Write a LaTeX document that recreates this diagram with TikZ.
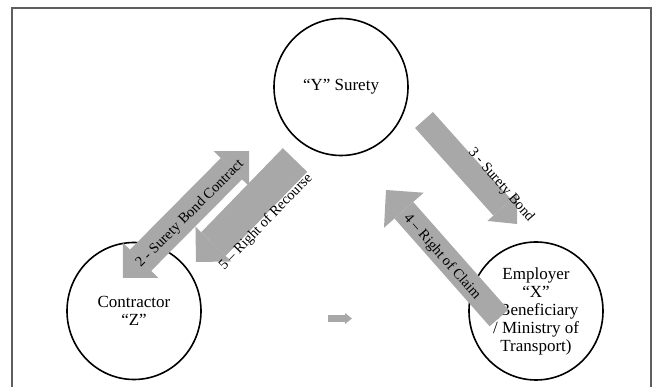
\documentclass[tikz,border=0pt]{standalone}
\usepackage{fontspec}
\setmainfont{Liberation Serif}
\usetikzlibrary{arrows.meta,shapes.geometric}
\definecolor{bandgray}{RGB}{168,168,168}
\definecolor{framegray}{RGB}{95,95,95}
\tikzset{
  party/.style={ellipse, draw, line width=1.6pt, inner sep=0pt, align=center,
    minimum width=134pt, minimum height=137pt,
    font=\fontsize{17}{18}\selectfont},
  band/.style={draw=bandgray, line width=#1},
  band label/.style={inner sep=0pt, font=\fontsize{14.5}{15}\selectfont},
}

\begin{document}
\begin{tikzpicture}[x=1pt, y=-1pt]
  \useasboundingbox (0,0) rectangle (654,387);

  % frame
  \draw[framegray, line width=1.3pt] (12,387) -- (12,8) -- (651,8) -- (651,387);

  % the three parties
  \node[party] (surety) at (341,87) {“Y” Surety};
  \node[party] (contractor) at (134,311) {Contractor\\“Z”};
  \node[party, minimum height=138pt] (employer) at (536,311)
    {Employer\\“X”\\(Beneficiary\\/ Ministry of\\Transport)};

  % end points of the bands
  \coordinate (a2) at (123,278);
  \coordinate (b2) at (249,151);
  \coordinate (a5) at (295,160);
  \coordinate (b5) at (196,262);
  \coordinate (a3) at (424,120);
  \coordinate (b3) at (517,224);
  \coordinate (a4) at (499,318);
  \coordinate (b4) at (386,190);
  \coordinate (a6) at (328,318.5);
  \coordinate (b6) at (352,318.5);

  \draw[band=30pt, {Triangle[line width=0pt, width=50pt, length=25pt]}-{Triangle[line width=0pt, width=50pt, length=25pt]}]
    (a2) -- (b2);
  \draw[band=34pt, -{Triangle[line width=0pt, width=50pt, length=25pt]}] (a5) -- (b5);
  \draw[band=24pt, -{Triangle[line width=0pt, width=40pt, length=22pt]}] (a3) -- (b3);
  \draw[band=25pt, -{Triangle[line width=0pt, width=53pt, length=27pt]}] (a4) -- (b4);
  \draw[band=7pt, -{Triangle[line width=0pt, width=11pt, length=7pt]}] (a6) -- (b6);

  % labels on the bands
  \node[band label, rotate=45] (l2) at (190,214) {2 - Surety Bond Contract};
  \node[band label, rotate=46] (l5) at (266,222) {5 – Right of Recourse};
  \node[band label, rotate=-49] (l3) at (501,185) {3 - Surety Bond};
  \node[band label, rotate=-48.6] (l4) at (442,257) {4 – Right of Claim};
\end{tikzpicture}
\end{document}
